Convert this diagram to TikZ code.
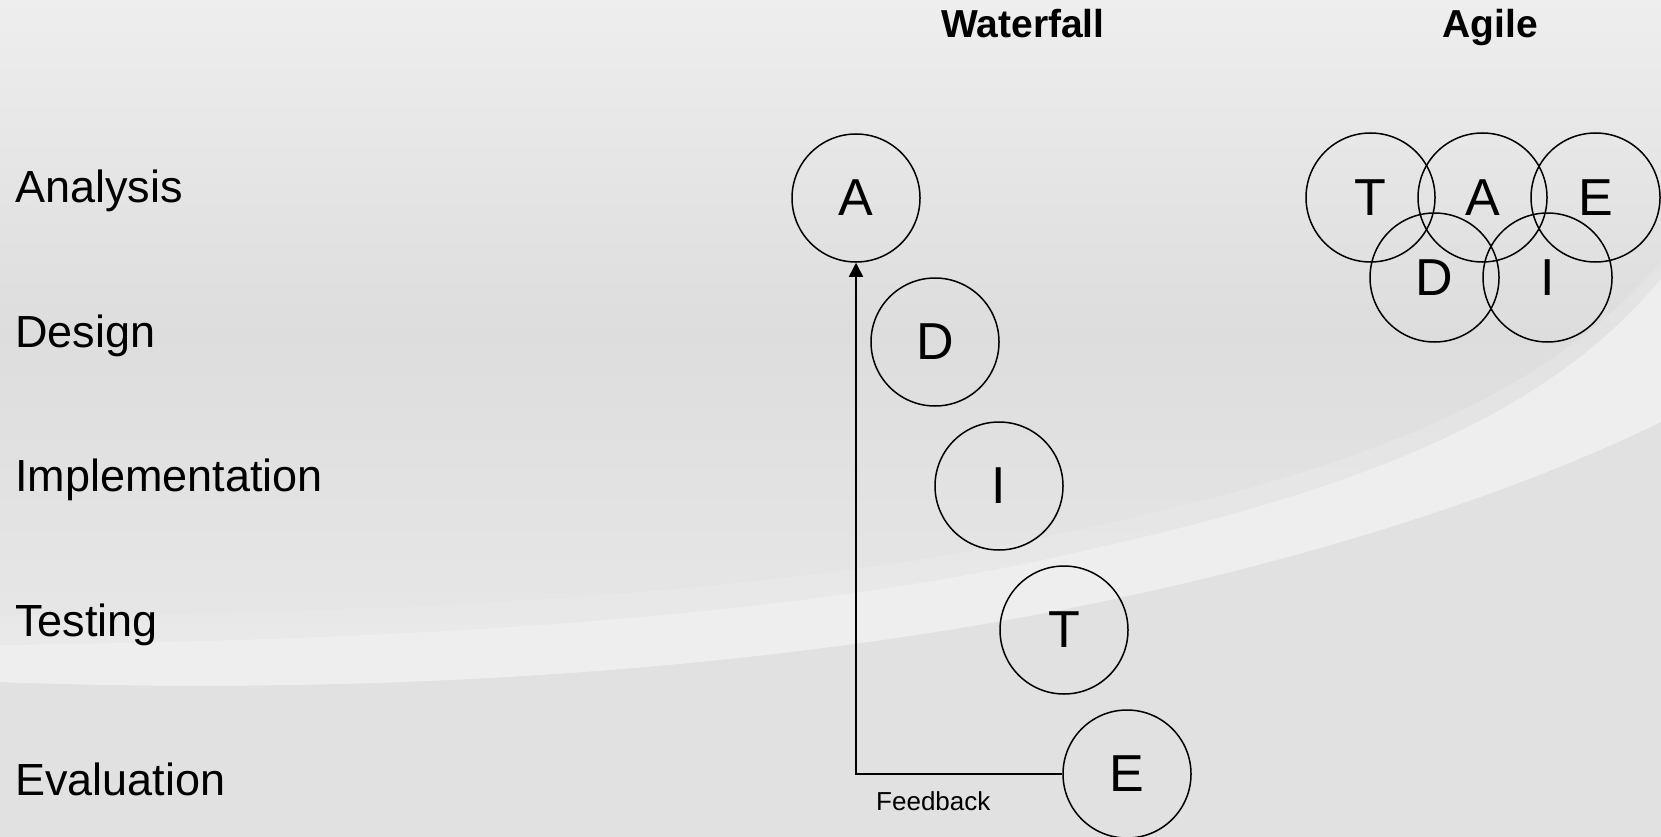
\documentclass[tikz,border=0pt]{standalone}
\usepackage{fontspec}
\setmainfont{Liberation Sans}
\usetikzlibrary{arrows.meta}
\definecolor{bgtop}{HTML}{EEEEEE}
\definecolor{bgmid}{HTML}{DDDDDD}
\definecolor{bglow}{HTML}{E9E9E9}
\definecolor{bgbot}{HTML}{E1E1E1}
\definecolor{swoosh}{HTML}{EEEEEE}
\tikzset{
  phase/.style={circle, draw=black, line width=1.5pt, minimum size=128pt, inner sep=0pt,
    font=\fontsize{52}{60}\selectfont},
  rowlabel/.style={anchor=base west, inner sep=0pt, font=\fontsize{45}{54}\selectfont},
  title/.style={anchor=base, inner sep=0pt, font=\fontsize{39}{46}\selectfont\bfseries},
  small/.style={anchor=base west, inner sep=0pt, font=\fontsize{26}{30}\selectfont},
  link/.style={line width=1.5pt, -{Triangle[length=14pt,width=14pt]}}
}
\begin{document}
\begin{tikzpicture}[x=1pt,y=-1pt]
\useasboundingbox (0,0) rectangle (1661,837);
% background
\shade[top color=bgtop, bottom color=bgmid, draw=none] (0,0) rectangle (1661,331);
\shade[top color=bgmid, bottom color=bglow, draw=none] (0,330) rectangle (1661,700);
% area below the swoosh
\fill[bgbot] (0,682) .. controls (350,695) and (750,675) .. (1100,602)
  .. controls (1300,560) and (1500,500) .. (1661,422) -- (1661,837) -- (0,837) -- cycle;
% soft halo above the swoosh
\fill[swoosh, fill opacity=0.35] (0,682) .. controls (350,695) and (750,675) .. (1100,602)
  .. controls (1300,560) and (1500,500) .. (1661,422)
  -- (1661,262) .. controls (1555,385) and (1395,460) .. (1100,525)
  .. controls (800,595) and (400,615) .. (0,615) -- cycle;
% swoosh band
\fill[swoosh] (0,682) .. controls (350,695) and (750,675) .. (1100,602)
  .. controls (1300,560) and (1500,500) .. (1661,422)
  -- (1661,279) .. controls (1560,400) and (1400,480) .. (1100,547)
  .. controls (800,620) and (400,640) .. (0,645) -- cycle;
% titles
\node[title] (tw) at (1023,38) {Waterfall};
\node[title] (ta) at (1490,38) {Agile};
% row labels
\node[rowlabel] (la) at (15,203) {Analysis};
\node[rowlabel] (ld) at (15,347) {Design};
\node[rowlabel] (li) at (15,491) {Implementation};
\node[rowlabel] (lt) at (15,636) {Testing};
\node[rowlabel] (le) at (15,795) {Evaluation};
% waterfall
\node[phase] (wA) at (856,198) {A};
\node[phase] (wD) at (935,342) {D};
\node[phase] (wI) at (999,486) {I};
\node[phase] (wT) at (1064,630) {T};
\node[phase] (wE) at (1127,774) {E};
\draw[link] (wE.west) -| (wA.south);
\node[small] (fb) at (876,810) {Feedback};
% agile
\node[phase, minimum size=129pt] (aT) at (1370.5,197.5) {T};
\node[phase, minimum size=129pt] (aA) at (1482.5,197.5) {A};
\node[phase, minimum size=129pt] (aE) at (1595.5,197.5) {E};
\node[phase, minimum size=129pt] (aD) at (1434.5,277.5) {D};
\node[phase, minimum size=129pt] (aI) at (1547.5,277.5) {I};
\end{tikzpicture}
\end{document}
